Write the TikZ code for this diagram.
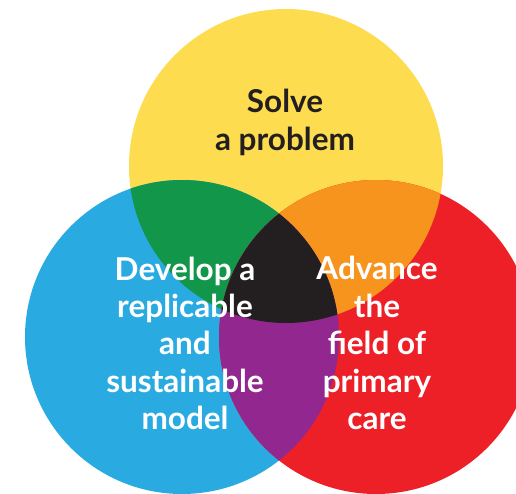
\documentclass[tikz,border=0pt]{standalone}
\usepackage{fontspec}
\setmainfont{Lato}
\definecolor{cyel}{HTML}{FDDC4F}
\definecolor{cblu}{HTML}{29ABE2}
\definecolor{cred}{HTML}{ED1F27}
\definecolor{cgrn}{HTML}{12964A}
\definecolor{corg}{HTML}{F7941E}
\definecolor{cpur}{HTML}{92278F}
\definecolor{cblk}{HTML}{231F20}
\tikzset{
  lbl/.style={anchor=base, inner sep=0pt, font=\fontsize{31.5}{38}\selectfont\bfseries},
  wlbl/.style={lbl, text=white},
  dlbl/.style={lbl, text=cblk},
}
\begin{document}
\begin{tikzpicture}[x=1pt,y=-1pt]
\useasboundingbox (0,0) rectangle (516,494);
\coordinate (cy) at (286,166);
\coordinate (cb) at (182,337);
\coordinate (cr) at (376,337);
\def\R{157}
\begin{scope}
\clip (0,0) rectangle (516,494);
\fill[cyel] (cy) circle (\R);
\fill[cblu] (cb) circle (\R);
\fill[cred] (cr) circle (\R);
\begin{scope}
  \clip (cy) circle (\R);
  \fill[cgrn] (cb) circle (\R);
  \fill[corg] (cr) circle (\R);
\end{scope}
\begin{scope}
  \clip (cb) circle (\R);
  \fill[cpur] (cr) circle (\R);
  \clip (cr) circle (\R);
  \fill[cblk] (cy) circle (\R);
\end{scope}
\end{scope}
% top label
\node[dlbl] (t1) at (285,113) {Solve};
\node[dlbl] (t2) at (285,151) {a problem};
% left label
\node[wlbl] (l1) at (185,280) {Develop a};
\node[wlbl] (l2) at (185,317) {replicable};
\node[wlbl] (l3) at (185,354) {and};
\node[wlbl] (l4) at (185,392) {sustainable};
\node[wlbl] (l5) at (185,429) {model};
% right label
\node[wlbl] (r1) at (377,279) {Advance};
\node[wlbl] (r2) at (377,317) {the};
\node[wlbl] (r3) at (377,354) {field of};
\node[wlbl] (r4) at (377,392) {primary};
\node[wlbl] (r5) at (377,429) {care};
\end{tikzpicture}
\end{document}
